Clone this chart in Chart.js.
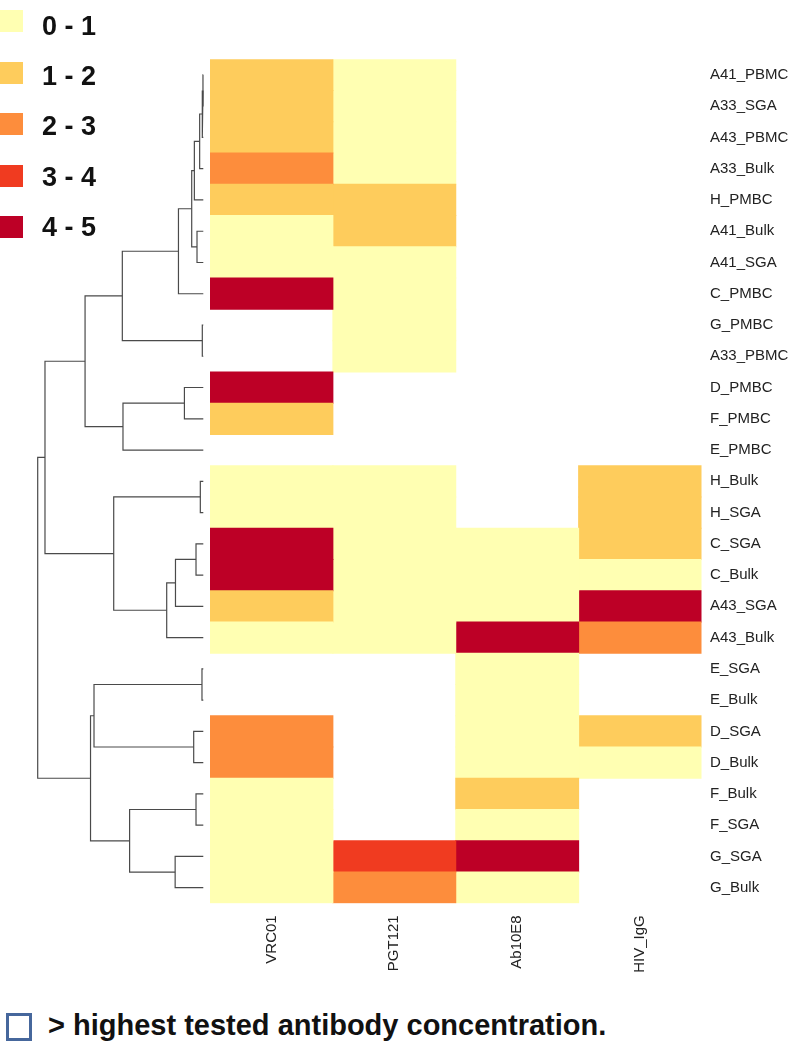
<!DOCTYPE html>
<html>
<head>
<meta charset="utf-8">
<script src="https://cdn.jsdelivr.net/npm/chart.js@4.4.1/dist/chart.umd.min.js"></script>
<style>
  html, body { margin: 0; padding: 0; background: #fff; }
  body { width: 797px; height: 1050px; position: relative; overflow: hidden; font-family: "Liberation Sans", Arial, sans-serif; }
  #dend { position: absolute; left: 0; top: 0; }
  #heat { position: absolute; left: 210px; top: 0; }
  .lg-box { position: absolute; left: 0; width: 23px; height: 22px; }
  .lg-txt { position: absolute; left: 42px; font-weight: bold; font-size: 27px; line-height: 27px; color: #111; white-space: nowrap; }
  #note-box { position: absolute; left: 6px; top: 1013px; width: 20px; height: 22px; border: 3px solid #46679c; }
  #note-txt { position: absolute; left: 48px; top: 1010.5px; font-weight: bold; font-size: 29px; line-height: 29px; color: #111; white-space: nowrap; }
</style>
</head>
<body>
<canvas id="dend" width="210" height="990"></canvas>
<canvas id="heat" width="587" height="990"></canvas>
<div id="legend"></div>
<div id="note-box"></div>
<div id="note-txt"></div>
<script>
// ---------- data ----------
const rowLabels = ['A41_PBMC','A33_SGA','A43_PBMC','A33_Bulk','H_PMBC','A41_Bulk','A41_SGA','C_PMBC','G_PMBC','A33_PBMC','D_PMBC','F_PMBC','E_PMBC','H_Bulk','H_SGA','C_SGA','C_Bulk','A43_SGA','A43_Bulk','E_SGA','E_Bulk','D_SGA','D_Bulk','F_Bulk','F_SGA','G_SGA','G_Bulk'];
const columnLabels = ['VRC01','PGT121','Ab10E8','HIV_IgG'];
const legendLabels = ['0 - 1','1 - 2','2 - 3','3 - 4','4 - 5'];
const footnote = '> highest tested antibody concentration.';

// values (bin midpoints), null = > highest tested concentration
const vrc01   = [1.5,1.5,1.5,2.5,1.5,0.5,0.5,4.5,null,null,4.5,1.5,null,0.5,0.5,4.5,4.5,1.5,0.5,null,null,2.5,2.5,0.5,0.5,0.5,0.5];
const pgt121  = [0.5,0.5,0.5,0.5,1.5,1.5,0.5,0.5,0.5,0.5,null,null,null,0.5,0.5,0.5,0.5,0.5,0.5,null,null,null,null,null,null,3.5,2.5];
const ab10e8  = [null,null,null,null,null,null,null,null,null,null,null,null,null,null,null,0.5,0.5,0.5,4.5,0.5,0.5,0.5,0.5,1.5,0.5,4.5,0.5];
const hivIgG  = [null,null,null,null,null,null,null,null,null,null,null,null,null,1.5,1.5,1.5,0.5,4.5,2.5,null,null,1.5,0.5,null,null,null,null];

// row dendrogram (hclust style: negative = leaf row, positive = earlier merge)
const mergeLeft   = [-1, 1, 2, 3, -6, 4, 6, -9, 7, -11, 10, 9, -14, -16, 14, 15, 13, 12, -20, -22, 19, -24, -26, 22, 21, 18];
const mergeRight  = [-2, -3, -4, -5, -7, 5, -8, -10, 8, -12, -13, 11, -15, -17, -18, -19, 16, 17, -21, -23, 20, -25, -27, 23, 24, 25];
const mergeHeight = [0.02, 0.06, 0.22, 0.54, 0.38, 0.70, 1.50, 0.06, 4.89, 1.14, 4.85, 7.14, 0.18, 0.44, 1.68, 2.21, 5.41, 9.56, 0.08, 0.58, 6.60, 0.44, 1.70, 4.45, 6.81, 10.0];

// ---------- style ----------
const binColors = ['#FFFFB2','#FECC5C','#FD8D3C','#F03B20','#BD0026'];
const FONT = '"Liberation Sans", Arial, sans-serif';
const PLOT_TOP = 59.3, PLOT_BOTTOM = 903.3, CANVAS_H = 990;

// ---------- legend & footnote (HTML text) ----------
const lg = document.getElementById('legend');
legendLabels.forEach((t, k) => {
  const b = document.createElement('div');
  b.className = 'lg-box';
  b.style.top = (10 + 51.6 * k) + 'px';
  b.style.background = binColors[k];
  lg.appendChild(b);
  const s = document.createElement('div');
  s.className = 'lg-txt';
  s.style.top = (26 + 50.3 * k - 13.2) + 'px';
  s.textContent = t;
  lg.appendChild(s);
});
document.getElementById('note-txt').textContent = footnote;

// ---------- dendrogram ----------
const nodeY = [], nodeH = [];
function childPos(id) {
  if (id < 0) return { y: -id - 1, h: 0 };
  return { y: nodeY[id - 1], h: nodeH[id - 1] };
}
const dendSets = [];
for (let m = 0; m < mergeHeight.length; m++) {
  const a = childPos(mergeLeft[m]);
  const b = childPos(mergeRight[m]);
  const h = mergeHeight[m];
  nodeY.push((a.y + b.y) / 2);
  nodeH.push(h);
  dendSets.push({
    data: [{ x: a.h, y: a.y }, { x: h, y: a.y }, { x: h, y: b.y }, { x: b.h, y: b.y }],
    showLine: true, borderColor: '#4a4a4a', borderWidth: 1.2, pointRadius: 0,
    tension: 0, fill: false, clip: 6
  });
}
new Chart(document.getElementById('dend'), {
  type: 'scatter',
  data: { datasets: dendSets },
  options: {
    responsive: false, animation: false, devicePixelRatio: 1,
    layout: { padding: { left: 37.7, right: 6.7, top: PLOT_TOP, bottom: CANVAS_H - PLOT_BOTTOM } },
    plugins: { legend: { display: false }, tooltip: { enabled: false } },
    scales: {
      x: { type: 'linear', min: 0, max: 10, reverse: true, display: false },
      y: { type: 'linear', min: -0.5, max: rowLabels.length - 0.5, reverse: true, display: false }
    }
  }
});

// ---------- heatmap ----------
const columnValues = [vrc01, pgt121, ab10e8, hivIgG];
const heatSets = columnValues.map((vals, j) => ({
  label: columnLabels[j],
  data: vals.map(v => v == null ? null : [j, j + 1]),
  backgroundColor: vals.map(v => v == null ? 'rgba(0,0,0,0)' : binColors[Math.min(4, Math.floor(v))]),
  borderWidth: 0, barPercentage: 1, categoryPercentage: 1, grouped: false, inflateAmount: 0.5
}));
new Chart(document.getElementById('heat'), {
  type: 'bar',
  data: { labels: rowLabels, datasets: heatSets },
  options: {
    indexAxis: 'y', responsive: false, animation: false, devicePixelRatio: 1,
    layout: { padding: { left: 0, right: 0, top: PLOT_TOP, bottom: 0 } },
    plugins: { legend: { display: false }, tooltip: { enabled: false } },
    scales: {
      x: {
        type: 'linear', min: 0, max: columnLabels.length, position: 'bottom',
        grid: { display: false, drawTicks: false }, border: { display: false },
        afterBuildTicks: s => { s.ticks = columnLabels.map((c, j) => ({ value: j + 0.5 })); },
        afterFit: s => { s.height = CANVAS_H - PLOT_BOTTOM; },
        ticks: {
          autoSkip: false, minRotation: 90, maxRotation: 90, padding: 12,
          color: '#222', font: { family: FONT, size: 15 },
          callback: v => columnLabels[Math.floor(v)]
        }
      },
      y: {
        type: 'category', position: 'right', offset: true,
        grid: { display: false, drawTicks: false }, border: { display: false },
        afterFit: s => { s.width = 587 - 491.5; },
        ticks: { padding: 8.5, color: '#222', font: { family: FONT, size: 15 }, autoSkip: false }
      }
    }
  }
});
</script>
</body>
</html>
